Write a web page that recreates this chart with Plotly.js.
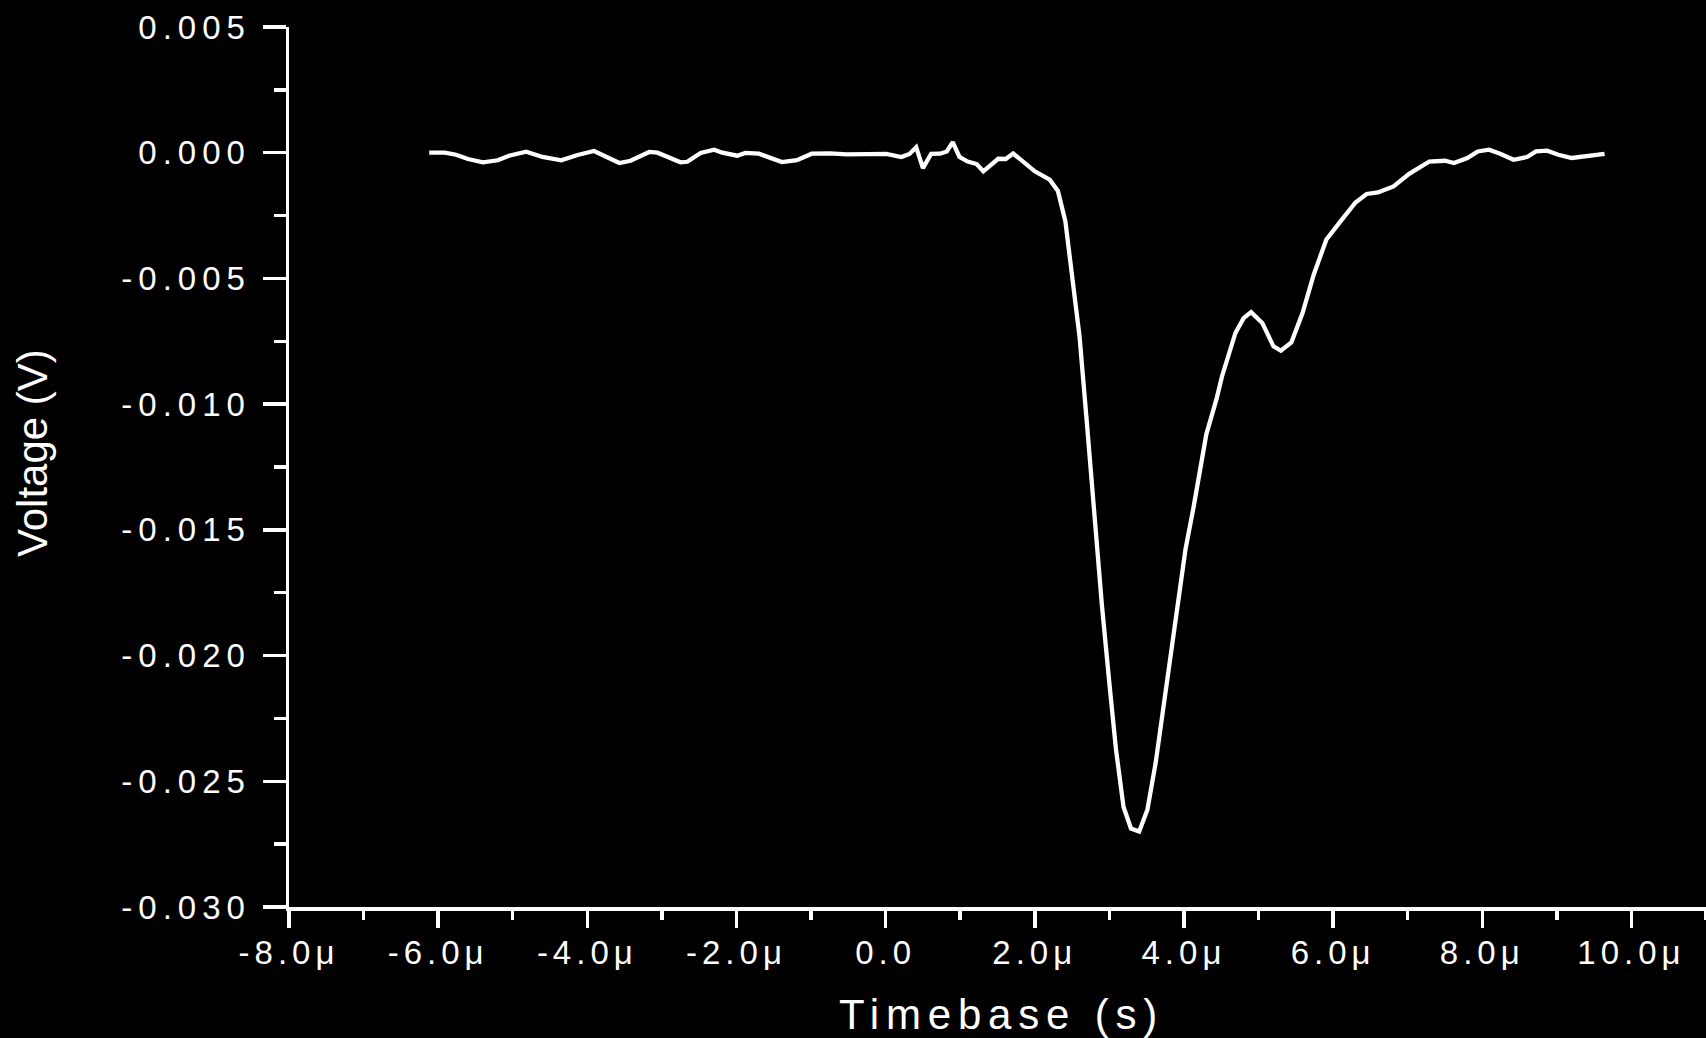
<!DOCTYPE html>
<html>
<head>
<meta charset="utf-8">
<script src="https://cdn.plot.ly/plotly-3.0.1.min.js"></script>
<style>
  html, body { margin: 0; padding: 0; background: #000; }
  #chart { width: 1706px; height: 1038px; }
  .xtick text { letter-spacing: 5px; }
  .ytick text { letter-spacing: 6px; }
  .g-xtitle text { letter-spacing: 6.8px; }
  .g-xtitle { transform: translate(4px, 0px); }
</style>
</head>
<body>
<div id="chart"></div>
<script>
// Time in microseconds, voltage in millivolts
const timeUs = [
  -6.12, -5.91, -5.76, -5.60, -5.40, -5.20, -5.05, -4.82, -4.60, -4.35,
  -4.13, -3.91, -3.57, -3.42, -3.17, -3.06, -2.75, -2.66, -2.48, -2.30,
  -2.19, -1.99, -1.88, -1.70, -1.39, -1.19, -0.99, -0.74, -0.52, -0.25,
  0.01, 0.21, 0.32, 0.41, 0.50, 0.61, 0.73, 0.82, 0.90, 0.99,
  1.10, 1.22, 1.31, 1.51, 1.61, 1.71, 1.84, 2.00, 2.20, 2.31,
  2.41, 2.50, 2.60, 2.70, 2.80, 2.90, 3.00, 3.09, 3.19, 3.29,
  3.40, 3.51, 3.62, 3.76, 3.89, 4.02, 4.13, 4.30, 4.44, 4.51,
  4.69, 4.80, 4.90, 5.05, 5.20, 5.30, 5.44, 5.59, 5.74, 5.83,
  5.91, 6.12, 6.30, 6.45, 6.60, 6.81, 7.02, 7.29, 7.50, 7.62,
  7.80, 7.94, 8.09, 8.24, 8.42, 8.60, 8.72, 8.87, 9.02, 9.20,
  9.41, 9.64
];
const voltageMv = [
  0.00, 0.00, -0.08, -0.25, -0.38, -0.30, -0.12, 0.04, -0.17, -0.30,
  -0.09, 0.07, -0.41, -0.32, 0.03, 0.00, -0.38, -0.36, -0.01, 0.12,
  0.00, -0.12, -0.01, -0.04, -0.37, -0.30, -0.04, -0.03, -0.07, -0.07,
  -0.05, -0.17, -0.05, 0.22, -0.61, -0.05, -0.04, 0.05, 0.42, -0.17,
  -0.35, -0.45, -0.74, -0.24, -0.25, -0.03, -0.35, -0.74, -1.07, -1.52,
  -2.73, -4.79, -7.31, -10.8, -14.6, -18.0, -21.1, -23.77, -26.02, -26.88,
  -27.0, -26.13, -24.28, -21.36, -18.45, -15.79, -14.08, -11.2, -9.76, -8.90,
  -7.17, -6.58, -6.34, -6.77, -7.70, -7.87, -7.55, -6.38, -4.85, -4.05,
  -3.45, -2.65, -1.98, -1.64, -1.58, -1.34, -0.84, -0.35, -0.32, -0.41,
  -0.21, 0.05, 0.12, -0.04, -0.28, -0.17, 0.05, 0.08, -0.08, -0.21,
  -0.12, -0.05
];

const xTickValsUs = [-8, -6, -4, -2, 0, 2, 4, 6, 8, 10];
const xTickText = ["-8.0\u03bc", "-6.0\u03bc", "-4.0\u03bc", "-2.0\u03bc", "0.0", "2.0\u03bc", "4.0\u03bc", "6.0\u03bc", "8.0\u03bc", "10.0\u03bc"];
const yTickVals = [0.005, 0.000, -0.005, -0.010, -0.015, -0.020, -0.025, -0.030];
const yTickText = ["0.005", "0.000", "-0.005", "-0.010", "-0.015", "-0.020", "-0.025", "-0.030"];
const xTitle = 'Timebase (s)';
const yTitle = 'Voltage (V)';

const FONT = "'Liberation Sans', Arial, sans-serif";

const trace = {
  type: 'scatter',
  mode: 'lines',
  x: timeUs.map(t => t * 1e-6),
  y: voltageMv.map(v => v * 1e-3),
  line: { color: '#ffffff', width: 4.3 },
  hoverinfo: 'skip'
};

const layout = {
  width: 1706,
  height: 1038,
  paper_bgcolor: '#000000',
  plot_bgcolor: '#000000',
  showlegend: false,
  margin: { l: 289, r: 0, t: 27, b: 131, pad: 0 },
  font: { family: FONT, color: '#ffffff' },
  xaxis: {
    range: [-8e-6, 11e-6],
    tickmode: 'array',
    tickvals: xTickValsUs.map(t => t * 1e-6),
    ticktext: xTickText,
    ticks: 'outside',
    ticklen: 17,
    tickwidth: 3.5,
    tickcolor: '#ffffff',
    ticklabelstandoff: -3,
    showline: true,
    linecolor: '#ffffff',
    linewidth: 3.5,
    showgrid: false,
    zeroline: false,
    automargin: false,
    tickfont: { family: FONT, size: 33, color: '#ffffff' },
    minor: { ticks: 'outside', ticklen: 9, tickwidth: 3.5, tickcolor: '#ffffff', dtick: 1e-6, tick0: 0, showgrid: false },
    title: { text: xTitle, font: { family: FONT, size: 42, color: '#ffffff' }, standoff: 30 }
  },
  yaxis: {
    range: [-0.030, 0.005],
    tickmode: 'array',
    tickvals: yTickVals,
    ticktext: yTickText,
    ticks: 'outside',
    ticklen: 23,
    tickwidth: 3.5,
    tickcolor: '#ffffff',
    ticklabelstandoff: 5,
    showline: true,
    linecolor: '#ffffff',
    linewidth: 3.5,
    showgrid: false,
    zeroline: false,
    automargin: false,
    tickfont: { family: FONT, size: 33, color: '#ffffff' },
    minor: { ticks: 'outside', ticklen: 12, tickwidth: 3.5, tickcolor: '#ffffff', dtick: 0.0025, tick0: 0, showgrid: false }
  },
  annotations: [{
    text: yTitle,
    xref: 'paper', yref: 'paper',
    x: (32 - 289) / 1417, y: (907 - 453) / 880,
    xanchor: 'center', yanchor: 'middle',
    textangle: -90,
    showarrow: false,
    font: { family: FONT, size: 42, color: '#ffffff' }
  }]
};

Plotly.newPlot('chart', [trace], layout, { staticPlot: true, displayModeBar: false });
</script>
</body>
</html>
